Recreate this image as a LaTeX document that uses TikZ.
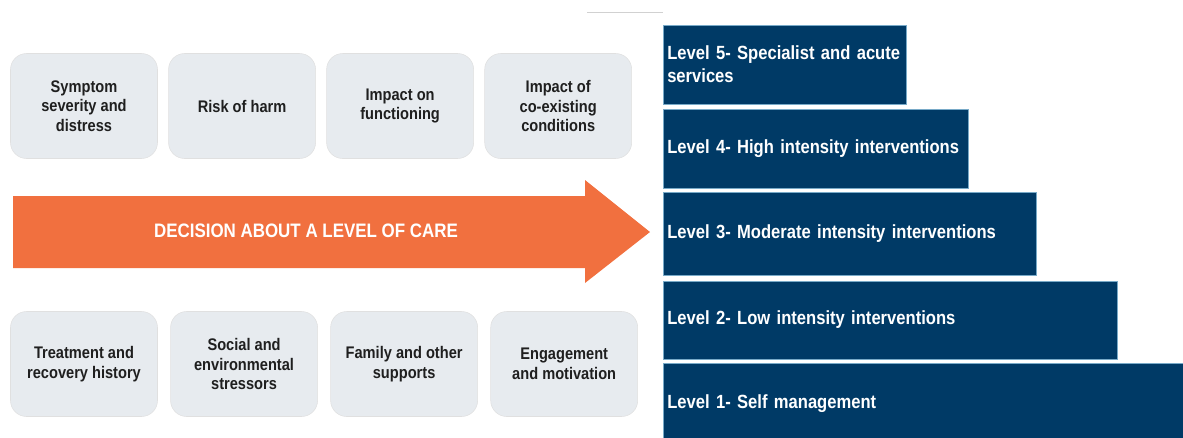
\documentclass[tikz,border=0pt]{standalone}
\usepackage{fontspec}
\setmainfont{Liberation Sans}[FakeStretch=0.87]
\usetikzlibrary{positioning}
\definecolor{boxgrey}{RGB}{231,235,239}
\definecolor{careorange}{RGB}{241,112,63}
\definecolor{levelblue}{RGB}{0,58,102}
\definecolor{leveledge}{RGB}{120,170,200}

\begin{document}
\begin{tikzpicture}[x=0.75pt, y=-0.75pt,
        factor/.style={draw=black!12, fill=boxgrey, rounded corners=12pt, minimum width=110.25pt, minimum height=78.75pt, align=center, text=black!88, font=\bfseries\fontsize{12.6}{14.6}\selectfont},
        level/.style={draw=leveledge, fill=levelblue, anchor=west, align=left, inner xsep=3pt, text=white, font=\bfseries\fontsize{14.3}{17.25}\selectfont}]
        \useasboundingbox (0,0) rectangle (1183,437);
        \draw[black!18, line width=0.5pt] (587,12) -- (663,12);

        \node[factor] (f0) at (84,106) {Symptom\\severity and\\distress};
        \node[factor, right = 7.9pt of f0] (f1) {Risk of harm};
        \node[factor, right = 7.9pt of f1] (f2) {Impact on\\functioning};
        \node[factor, right = 7.9pt of f2] (f3) {Impact of\\co-existing\\conditions};

        \fill[careorange] (13,196) -- (585,196) -- (585,180) -- (650,232) -- (585,283) -- (585,268) -- (13,268) -- cycle;
        \node[text=white, font=\bfseries\fontsize{14.6}{17.25}\selectfont] (dec) at (306,231) {DECISION ABOUT A LEVEL OF CARE};

        \node[factor] (g0) at (84,364) {Treatment and\\recovery history};
        \node[factor, right = 9.4pt of g0] (g1) {Social and\\environmental\\stressors};
        \node[factor, right = 9.4pt of g1] (g2) {Family and other\\supports};
        \node[factor, right = 9.4pt of g2] (g3) {Engagement\\and motivation};

        \node[level, minimum width=182.25pt, minimum height=59.25pt, text width=176.25pt] (l5) at (663,64.5) {Level 5- Specialist and acute\\services};
        \node[level, minimum width=228.75pt, minimum height=59.25pt, text width=222.75pt] (l4) at (663,148.5) {Level 4- High intensity interventions};
        \node[level, minimum width=279.75pt, minimum height=62.25pt, text width=273.75pt] (l3) at (663,233.5) {Level 3- Moderate intensity interventions};
        \node[level, minimum width=340.5pt, minimum height=58.5pt, text width=334.5pt] (l2) at (663,320) {Level 2- Low intensity interventions};
        \node[level, minimum width=393pt, minimum height=61.5pt, text width=387pt] (l1) at (663,404) {Level 1- Self management};
\end{tikzpicture}
\end{document}
